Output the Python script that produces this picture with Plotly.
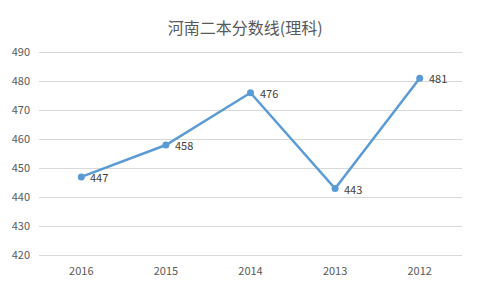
import plotly.graph_objects as go

years = ["2016", "2015", "2014", "2013", "2012"]
scores = [447, 458, 476, 443, 481]
y_ticks = [420, 430, 440, 450, 460, 470, 480, 490]

FONT = "Noto Sans CJK SC, sans-serif"

fig = go.Figure()
fig.add_trace(go.Scatter(
    x=list(range(len(years))), y=scores,
    mode="lines+markers",
    line=dict(color="#5B9BD5", width=2.5),
    marker=dict(color="#5B9BD5", size=7),
    cliponaxis=False,
))
for i, s in enumerate(scores):
    fig.add_annotation(x=i, y=s, text=str(s), showarrow=False, xanchor="left", yanchor="middle",
                       xshift=7, yshift=0, font=dict(family=FONT, size=11, color="#404040"))
fig.update_layout(
    width=478, height=291,
    margin=dict(l=35, r=16, t=51, b=34),
    paper_bgcolor="white", plot_bgcolor="white",
    showlegend=False,
    title=dict(text="河南二本分数线(理科)", x=0.513, xanchor="center", y=1 - 28/291, yanchor="middle",
               font=dict(family=FONT, size=16, color="#595959")),
    xaxis=dict(range=[-0.5, 4.5], tickvals=list(range(len(years))), ticktext=years,
               showgrid=False, zeroline=False, showline=False, ticks="", ticklabelstandoff=6,
               tickfont=dict(family=FONT, size=11, color="#595959")),
    yaxis=dict(range=[419.4, 490.4], tickvals=y_ticks, showgrid=True, gridcolor="#D9D9D9", gridwidth=1,
               zeroline=False, showline=False, ticks="", ticklabelstandoff=8,
               tickfont=dict(family=FONT, size=11, color="#595959")),
    font=dict(family=FONT),
)
fig.write_html("out.html")
